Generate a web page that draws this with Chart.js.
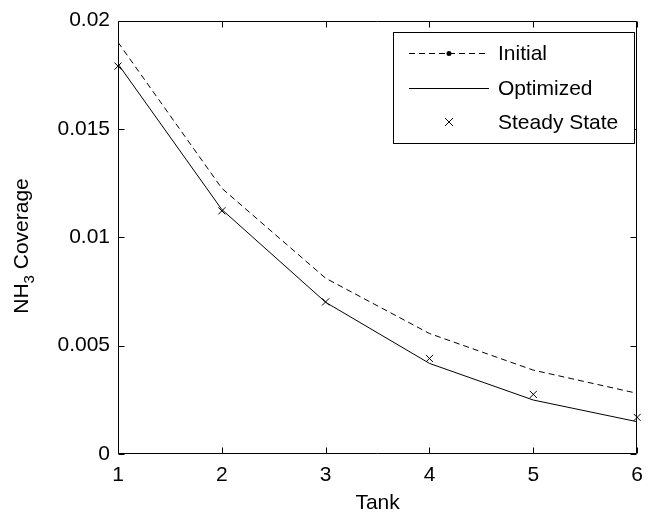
<!DOCTYPE html>
<html>
<head>
<meta charset="utf-8">
<script src="https://cdn.jsdelivr.net/npm/chart.js@4/dist/chart.umd.min.js"></script>
<style>
  html, body { margin: 0; padding: 0; background: #ffffff; }
  #wrap { width: 652px; height: 514px; }
</style>
</head>
<body>
<div id="wrap"><canvas id="c" width="652" height="514"></canvas></div>
<script>
// NH3 surface coverage per tank
const tanks = [1, 2, 3, 4, 5, 6];
const initialCoverage = [0.0190, 0.01226, 0.00811, 0.00556, 0.00387, 0.00280];
const optimizedCoverage = [0.0180, 0.01128, 0.00700, 0.00418, 0.00249, 0.00149];
const steadyStateCoverage = [0.0179, 0.01122, 0.00702, 0.00441, 0.00275, 0.00169];

const xTicks = [1, 2, 3, 4, 5, 6];
const yTicks = [0, 0.005, 0.01, 0.015, 0.02];
const yTickLabels = ['0', '0.005', '0.01', '0.015', '0.02'];
const legendLabels = ['Initial', 'Optimized', 'Steady State'];

const FONT = 'Liberation Sans, Arial, Helvetica, sans-serif';
const FONT_SIZE = 21;
const toPoints = (ys) => tanks.map((x, i) => ({ x: x, y: ys[i] }));

// Box around the axes with inward tick marks on all four sides
const framePlugin = {
  id: 'frame',
  afterDatasetsDraw(chart) {
    const { ctx, chartArea: a, scales } = chart;
    const L = Math.round(a.left) + 0.5, R = Math.round(a.right) - 0.5;
    const T = Math.round(a.top) + 0.5, B = Math.round(a.bottom) - 0.5;
    const tick = 6;
    ctx.save();
    ctx.strokeStyle = '#000';
    ctx.lineWidth = 1;
    ctx.beginPath();
    ctx.rect(L, T, R - L, B - T);
    xTicks.forEach(v => {
      const px = Math.round(scales.x.getPixelForValue(v)) + 0.5;
      ctx.moveTo(px, B); ctx.lineTo(px, B - tick);
      ctx.moveTo(px, T); ctx.lineTo(px, T + tick);
    });
    yTicks.forEach(v => {
      const py = Math.round(scales.y.getPixelForValue(v)) + 0.5;
      ctx.moveTo(L, py); ctx.lineTo(L + tick, py);
      ctx.moveTo(R, py); ctx.lineTo(R - tick, py);
    });
    ctx.stroke();
    ctx.restore();
  }
};

// Axis titles, with a subscript in the y title
const titlePlugin = {
  id: 'titles',
  afterDraw(chart) {
    const { ctx, chartArea: a } = chart;
    ctx.save();
    ctx.fillStyle = '#000';
    ctx.textBaseline = 'middle';
    ctx.textAlign = 'center';
    const big = FONT_SIZE + 'px ' + FONT, small = '15px ' + FONT;
    ctx.font = big;
    ctx.fillText('Tank', (a.left + a.right) / 2, 503);

    ctx.font = big; const w1 = ctx.measureText('NH').width;
    ctx.font = small; const w2 = ctx.measureText('3').width;
    ctx.font = big; const w3 = ctx.measureText(' Coverage').width;
    const total = w1 + w2 + w3;
    ctx.translate(22, 246);
    ctx.rotate(-Math.PI / 2);
    ctx.textAlign = 'left';
    let x = -total / 2;
    ctx.font = big; ctx.fillText('NH', x, 0); x += w1;
    ctx.font = small; ctx.fillText('3', x, 8); x += w2;
    ctx.font = big; ctx.fillText(' Coverage', x, 0);
    ctx.restore();
  }
};

// Boxed legend in the upper right of the axes
const legendPlugin = {
  id: 'boxLegend',
  afterDraw(chart) {
    const { ctx } = chart;
    const bx = 393.5, by = 32.5, bw = 241, bh = 111;
    const rows = [53, 88, 122];
    const x0 = 409, x1 = 489, tx = 498;
    ctx.save();
    ctx.fillStyle = '#fff';
    ctx.fillRect(bx, by, bw, bh);
    ctx.strokeStyle = '#000';
    ctx.lineWidth = 1;
    ctx.strokeRect(bx, by, bw, bh);

    // Initial: dashed line with dot marker
    ctx.beginPath();
    ctx.setLineDash([6, 4]);
    ctx.moveTo(x0, rows[0] + 0.5); ctx.lineTo(x1, rows[0] + 0.5);
    ctx.stroke();
    ctx.setLineDash([]);
    ctx.beginPath();
    ctx.fillStyle = '#000';
    ctx.arc((x0 + x1) / 2, rows[0] + 0.5, 2.5, 0, Math.PI * 2);
    ctx.fill();

    // Optimized: solid line
    ctx.beginPath();
    ctx.moveTo(x0, rows[1] + 0.5); ctx.lineTo(x1, rows[1] + 0.5);
    ctx.stroke();

    // Steady State: x marker
    const cx = (x0 + x1) / 2, cy = rows[2], s = 4;
    ctx.beginPath();
    ctx.moveTo(cx - s, cy - s); ctx.lineTo(cx + s, cy + s);
    ctx.moveTo(cx - s, cy + s); ctx.lineTo(cx + s, cy - s);
    ctx.stroke();

    ctx.fillStyle = '#000';
    ctx.font = FONT_SIZE + 'px ' + FONT;
    ctx.textAlign = 'left';
    ctx.textBaseline = 'middle';
    legendLabels.forEach((t, i) => ctx.fillText(t, tx, rows[i] + 1));
    ctx.restore();
  }
};

new Chart(document.getElementById('c'), {
  type: 'line',
  data: {
    datasets: [
      {
        label: legendLabels[0],
        data: toPoints(initialCoverage),
        borderColor: '#000',
        borderWidth: 1,
        borderDash: [6, 4],
        pointRadius: 0,
        tension: 0,
        fill: false
      },
      {
        label: legendLabels[1],
        data: toPoints(optimizedCoverage),
        borderColor: '#000',
        borderWidth: 1,
        pointRadius: 0,
        tension: 0,
        fill: false
      },
      {
        label: legendLabels[2],
        data: toPoints(steadyStateCoverage),
        showLine: false,
        borderColor: '#000',
        backgroundColor: '#000',
        pointStyle: 'crossRot',
        pointRadius: 5,
        pointBorderWidth: 1,
        clip: false
      }
    ]
  },
  options: {
    responsive: false,
    animation: false,
    devicePixelRatio: 1,
    layout: { padding: { left: 0, top: 20, right: 7, bottom: 0 } },
    plugins: { legend: { display: false }, tooltip: { enabled: false } },
    scales: {
      x: {
        type: 'linear',
        min: 1,
        max: 6,
        afterBuildTicks: (s) => { s.ticks = xTicks.map(v => ({ value: v })); },
        afterFit: (s) => { s.height = 60; },
        grid: { display: false, drawTicks: false },
        border: { display: false },
        ticks: {
          color: '#000',
          font: { family: FONT, size: FONT_SIZE },
          padding: 9,
          maxRotation: 0,
          callback: (v) => String(v)
        }
      },
      y: {
        type: 'linear',
        min: 0,
        max: 0.02,
        afterBuildTicks: (s) => { s.ticks = yTicks.map(v => ({ value: v })); },
        afterFit: (s) => { s.width = 118; },
        grid: { display: false, drawTicks: false },
        border: { display: false },
        ticks: {
          color: '#000',
          font: { family: FONT, size: FONT_SIZE },
          padding: 8,
          callback: (v) => yTickLabels[yTicks.indexOf(v)] ?? ''
        }
      }
    }
  },
  plugins: [framePlugin, titlePlugin, legendPlugin]
});
</script>
</body>
</html>
